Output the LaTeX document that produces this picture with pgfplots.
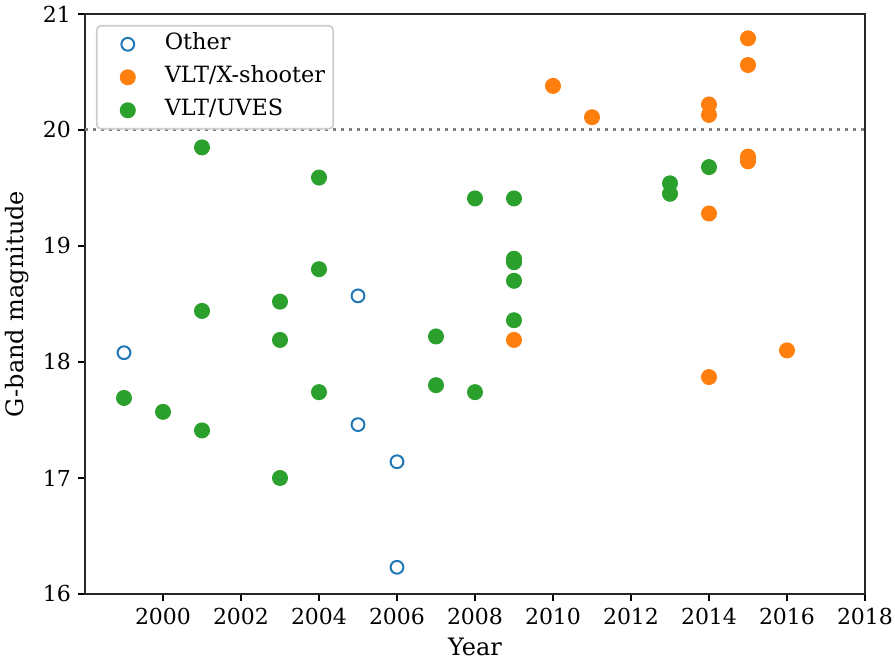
\documentclass[border=0pt]{standalone}
\usepackage{fontspec}
\setmainfont{DejaVu Serif}
\usepackage{pgfplots}
\pgfplotsset{compat=1.18}
\definecolor{c0}{HTML}{1F77B4}
\definecolor{c1}{HTML}{FF7F0E}
\definecolor{c2}{HTML}{2CA02C}
\definecolor{lgframe}{HTML}{CCCCCC}
\begin{document}
\begin{tikzpicture}
\begin{axis}[
  scale only axis, width=390pt, height=290pt,
  xmin=1998, xmax=2018, ymin=16, ymax=21,
  xtick={2000,2002,...,2018}, ytick={16,17,...,21},
  xticklabel style={/pgf/number format/1000 sep={}},
  /pgf/number format/assume math mode=true,
  tick align=outside, major tick length=3.5pt, tick pos=left,
  major tick style={line width=0.8pt, black},
  axis line style={line width=0.8pt, black!85},
  ticklabel style={font=\fontsize{11}{13}\selectfont},
  label style={font=\fontsize{12}{14}\selectfont},
  xlabel={Year}, ylabel={G-band magnitude},
  legend cell align=left,
  legend image code/.code={\draw[mark repeat=2,mark phase=2,#1,only marks] plot coordinates {(0pt,0pt)(13.5pt,0pt)(27pt,0pt)}; \path[draw=none,fill=none] (0pt,0pt) -- (30pt,0pt);},
  legend style={at={(0,1)}, anchor=north west, xshift=5.5pt, yshift=-5.5pt,
    draw=lgframe, line width=0.8pt, rounded corners=2pt, fill=white,
    inner xsep=2pt, inner ysep=1pt,
    font=\fontsize{11.2}{13}\selectfont,
    nodes={inner xsep=2pt, inner ysep=3pt, text height=8pt, text depth=2.5pt}},
]
\addplot[gray, line width=1.5pt, dash pattern=on 1.5pt off 2.5pt, forget plot] coordinates {(1998,20) (2018,20)};
\addplot[only marks, mark=o, mark size=3.2pt, c0, line width=1pt] coordinates {
 (1999,18.08) (2005,18.57) (2005,17.46) (2006,17.14) (2006,16.23)};
\addlegendentry{Other}
\addplot[only marks, mark=*, mark size=3.5pt, c1, line width=1pt] coordinates {
 (2009,18.19) (2010,20.38) (2011,20.11)
 (2014,20.22) (2014,20.13) (2014,19.28) (2014,17.87)
 (2015,20.79) (2015,20.56) (2015,19.77) (2015,19.73)
 (2016,18.10)};
\addlegendentry{VLT/X-shooter}
\addplot[only marks, mark=*, mark size=3.5pt, c2, line width=1pt] coordinates {
 (1999,17.69) (2000,17.57)
 (2001,19.85) (2001,18.44) (2001,17.41)
 (2003,18.52) (2003,18.19) (2003,17.00)
 (2004,19.59) (2004,18.80) (2004,17.74)
 (2007,18.22) (2007,17.80)
 (2008,19.41) (2008,17.74)
 (2009,19.41) (2009,18.89) (2009,18.86) (2009,18.70) (2009,18.36)
 (2013,19.54) (2013,19.45)
 (2014,19.68)};
\addlegendentry{VLT/UVES}
\end{axis}
\pgfresetboundingbox
\path ([xshift=-42.5pt,yshift=-32.5pt]current axis.south west) rectangle ([xshift=15pt,yshift=7pt]current axis.north east);
\end{tikzpicture}
\end{document}
